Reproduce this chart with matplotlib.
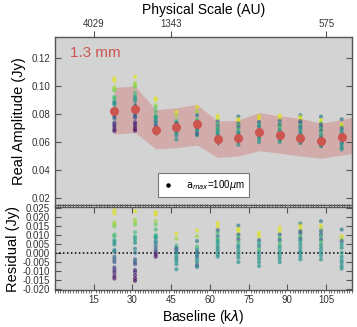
import numpy as np
import matplotlib
matplotlib.use("Agg")
import matplotlib.pyplot as plt
from matplotlib.ticker import MultipleLocator, FixedLocator

plt.rcParams['font.family'] = ['Liberation Sans', 'DejaVu Sans']

# baselines (klambda) of the binned visibilities
baseline = [23, 31, 39, 47, 55, 63, 71, 79, 87, 95, 103, 111]
obs_amp = [0.0819, 0.0835, 0.0687, 0.0708, 0.0725, 0.0620, 0.0630, 0.0672,
           0.0649, 0.0628, 0.0605, 0.0633]
obs_err = [0.004] * 12

# shaded uncertainty band (extends past the last bin)
band_x = [23, 31, 39, 47, 55, 63, 71, 79, 87, 95, 103, 111, 119]
band_hi = [0.0990, 0.1000, 0.0830, 0.0845, 0.0868, 0.0748, 0.0757, 0.0810,
           0.0786, 0.0770, 0.0734, 0.0762, 0.0790]
band_lo = [0.0656, 0.0668, 0.0550, 0.0560, 0.0578, 0.0490, 0.0500, 0.0538,
           0.0520, 0.0500, 0.0484, 0.0507, 0.0525]

# model residuals (model - data) per bin, with the colour value of each model
resid = [
    [0.0236, 0.0218, 0.0170, 0.0158, 0.0148, 0.0102, 0.0093, 0.0071, 0.0060, 0.0047,
     0.0016, 0.0009, -0.0020, -0.0035, -0.0050, -0.0080, -0.0094, -0.0108, -0.0127, -0.0141],
    [0.0231, 0.0185, 0.0170, 0.0158, 0.0115, 0.0090, 0.0075, 0.0057, 0.0024, 0.0002,
     -0.0035, -0.0050, -0.0062, -0.0094, -0.0105, -0.0123, -0.0141, -0.0154],
    [0.0225, 0.0213, 0.0176, 0.0158, 0.0130, 0.0100, 0.0090, 0.0084, 0.0066, 0.0055,
     0.0038, 0.0020, 0.0005, -0.0008, -0.0020],
    [0.0106, 0.0079, 0.0042, 0.0029, 0.0020, 0.0005, 0.0000, -0.0017, -0.0031, -0.0044,
     -0.0062, -0.0090],
    [0.0125, 0.0093, 0.0066, 0.0035, 0.0020, 0.0005, -0.0008, -0.0020, -0.0035, -0.0050,
     -0.0068, -0.0077],
    [0.0167, 0.0148, 0.0126, 0.0112, 0.0093, 0.0079, 0.0066, 0.0055, 0.0038, 0.0024,
     0.0011, -0.0008, -0.0020],
    [0.0152, 0.0134, 0.0121, 0.0102, 0.0090, 0.0075, 0.0060, 0.0042, 0.0029, 0.0011,
     -0.0008, -0.0026, -0.0050],
    [0.0112, 0.0093, 0.0071, 0.0055, 0.0038, 0.0020, 0.0005, -0.0013, -0.0031, -0.0050,
     -0.0072],
    [0.0140, 0.0121, 0.0102, 0.0084, 0.0071, 0.0057, 0.0038, 0.0024, 0.0005, -0.0013,
     -0.0031, -0.0050],
    [0.0163, 0.0152, 0.0134, 0.0121, 0.0109, 0.0093, 0.0079, 0.0066, 0.0048, 0.0029,
     0.0011, 0.0000, -0.0017, -0.0035],
    [0.0176, 0.0152, 0.0134, 0.0121, 0.0102, 0.0090, 0.0075, 0.0060, 0.0042, 0.0024,
     0.0005, -0.0013, -0.0035],
    [0.0130, 0.0093, 0.0079, 0.0066, 0.0048, 0.0029, 0.0002, -0.0020, -0.0039, -0.0053,
     -0.0072, -0.0086],
]
cval = [
    [0.95, 0.95, 0.85, 0.85, 0.8, 0.7, 0.7, 0.6, 0.5, 0.5,
     0.45, 0.45, 0.35, 0.3, 0.3, 0.2, 0.15, 0.1, 0.05, 0.05],
    [0.95, 0.85, 0.85, 0.8, 0.7, 0.6, 0.55, 0.5, 0.45, 0.4,
     0.3, 0.3, 0.25, 0.15, 0.12, 0.08, 0.05, 0.03],
    [0.95, 0.95, 0.85, 0.75, 0.7, 0.65, 0.6, 0.55, 0.5, 0.45,
     0.35, 0.3, 0.15, 0.08, 0.05],
    [0.95, 0.85, 0.7, 0.4, 0.3, 0.3, 0.5, 0.5, 0.5, 0.5, 0.5, 0.5],
    [0.95, 0.85, 0.4, 0.7, 0.5, 0.3, 0.5, 0.3, 0.5, 0.5, 0.2, 0.45],
    [0.95, 0.95, 0.3, 0.7, 0.35, 0.7, 0.5, 0.6, 0.5, 0.5, 0.5, 0.5, 0.5],
    [0.4, 0.95, 0.95, 0.3, 0.7, 0.3, 0.7, 0.5, 0.5, 0.5, 0.5, 0.5, 0.5],
    [0.95, 0.95, 0.3, 0.6, 0.4, 0.7, 0.5, 0.5, 0.5, 0.5, 0.5],
    [0.95, 0.95, 0.3, 0.7, 0.3, 0.7, 0.5, 0.6, 0.5, 0.5, 0.5, 0.5],
    [0.4, 0.95, 0.95, 0.3, 0.3, 0.7, 0.3, 0.55, 0.5, 0.5, 0.5, 0.5, 0.5, 0.5],
    [0.4, 0.95, 0.85, 0.3, 0.3, 0.7, 0.3, 0.7, 0.5, 0.5, 0.5, 0.5, 0.5],
    [0.4, 0.95, 0.85, 0.3, 0.55, 0.5, 0.6, 0.5, 0.5, 0.5, 0.5, 0.5],
]

# top axis: physical scale (AU) at selected baselines
au_ticks = [15, 45, 105]
au_labels = ['4029', '1343', '575']

red = '#cd5550'
bg = '#d3d3d3'
spine_c = '#555555'

fig = plt.figure(figsize=(3.57, 3.27), dpi=100)
ax1 = fig.add_axes([0.154, 0.373, 0.832, 0.514])
ax2 = fig.add_axes([0.154, 0.113, 0.832, 0.254])

for ax in (ax1, ax2):
    ax.set_facecolor(bg)
    ax.set_xlim(0, 115)
    for s in ax.spines.values():
        s.set_color(spine_c)
        s.set_linewidth(1.0)

# --- top panel ---
ax1.fill_between(band_x, band_lo, band_hi, color=red, alpha=0.3, lw=0, zorder=1)
ax1.errorbar(baseline, obs_amp, yerr=obs_err, fmt='none', ecolor='#555555',
             elinewidth=1, zorder=2)
cmap = plt.get_cmap('viridis')
for i, b in enumerate(baseline):
    r = np.array(resid[i])
    ax1.scatter([b] * len(r), obs_amp[i] + r, c=cmap(np.array(cval[i])), s=9,
                alpha=0.65, lw=0, zorder=3)
    ax2.scatter([b] * len(r), r, c=cmap(np.array(cval[i])), s=9,
                alpha=0.65, lw=0, zorder=3)
ax1.plot(baseline, obs_amp, 'o', color=red, ms=5.5, zorder=4)
ax1.scatter([], [], c='k', s=5, label=r'$\mathrm{a}_{max}$=100$\mu$m')

ax1.set_ylim(0.015, 0.135)
ax1.yaxis.set_major_locator(FixedLocator([0.02, 0.04, 0.06, 0.08, 0.10, 0.12]))
ax1.set_yticklabels(['0.02', '0.04', '0.06', '0.08', '0.10', '0.12'])
ax1.tick_params(axis='y', direction='in', left=True, right=True, length=4,
                labelsize=7, color=spine_c, labelcolor='#333333')
ax1.tick_params(axis='x', bottom=False, labelbottom=False)
ax1.set_ylabel('Real Amplitude (Jy)', fontsize=10.5, labelpad=4)
ax1.text(0.05, 0.905, '1.3 mm', transform=ax1.transAxes, color=red,
         fontsize=11, va='center', ha='left')
leg = ax1.legend(loc='lower center', bbox_to_anchor=(0.5, 0.02), fontsize=7,
                 fancybox=False, framealpha=1, edgecolor='#777777',
                 handletextpad=1.2, borderpad=0.5, handlelength=1.2)
leg.get_frame().set_linewidth(0.8)

top = ax1.twiny()
top.set_xlim(ax1.get_xlim())
top.set_xticks(au_ticks)
top.set_xticklabels(au_labels)
top.tick_params(axis='x', direction='out', length=4, labelsize=7, pad=2,
                color=spine_c, labelcolor='#333333')
top.set_xlabel('Physical Scale (AU)', fontsize=10, labelpad=3)
for s in top.spines.values():
    s.set_visible(False)

# --- residual panel ---
ax2.axhline(0, color='k', ls=(0, (1.0, 1.6)), lw=1.1, zorder=2)
ax2.set_ylim(-0.0205, 0.0255)
ax2.yaxis.set_major_locator(MultipleLocator(0.005))
ax2.yaxis.set_major_formatter(plt.FuncFormatter(lambda v, p: f'{v:.3f}'))
ax2.xaxis.set_major_locator(FixedLocator([15, 30, 45, 60, 75, 90, 105]))
ax2.xaxis.set_minor_locator(MultipleLocator(1))
ax2.tick_params(axis='both', which='major', direction='in', top=True, right=True,
                length=4, labelsize=7, color=spine_c, labelcolor='#333333')
ax2.tick_params(axis='x', which='minor', direction='out', top=True, bottom=True,
                length=2.2, width=0.6, color=spine_c)
ax2.set_ylabel('Residual (Jy)', fontsize=10.5, labelpad=2)
ax2.set_xlabel(r'Baseline (k$\lambda$)', fontsize=10, labelpad=2)

fig.savefig('out.png', dpi=100)
